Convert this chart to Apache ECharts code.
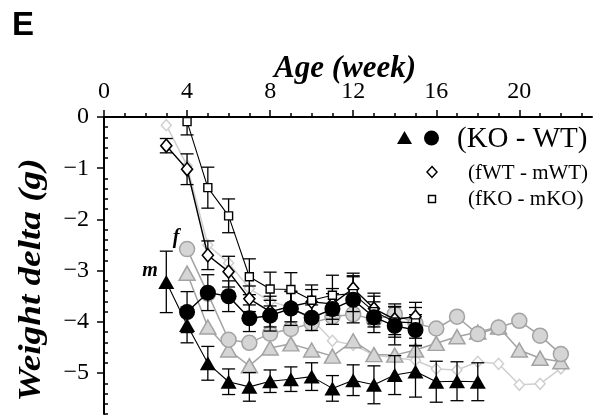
<!DOCTYPE html>
<html>
<head>
<meta charset="utf-8">
<script src="https://cdn.jsdelivr.net/npm/echarts@6/dist/echarts.min.js"></script>
<style>
  html, body { margin: 0; padding: 0; background: #fff; }
  #chart { width: 608px; height: 417px; }
</style>
</head>
<body>
<div id="chart"></div>
<script>
// Weight difference (g) against age (week)
const weeksM = [3, 4, 5, 6, 7, 8, 9, 10, 11, 12, 13, 14, 15, 16, 17, 18];
const koWtMale = [-3.22, -4.06, -4.81, -5.17, -5.27, -5.16, -5.12, -5.07, -5.30, -5.14, -5.23, -5.04, -4.97, -5.17, -5.16, -5.17];
const koWtMaleErr = [0.60, 0.35, 0.33, 0.25, 0.28, 0.22, 0.24, 0.27, 0.25, 0.30, 0.37, 0.38, 0.50, 0.40, 0.38, 0.37];

const weeksF = [4, 5, 6, 7, 8, 9, 10, 11, 12, 13, 14, 15];
const koWtFemale = [-3.81, -3.43, -3.50, -3.93, -3.88, -3.74, -3.92, -3.75, -3.57, -3.91, -4.08, -4.16];
const koWtFemaleErr = [0.40, 0.35, 0.30, 0.26, 0.30, 0.33, 0.25, 0.30, 0.45, 0.30, 0.37, 0.30];

const weeksWT = [3, 4, 5, 6, 7, 8, 9, 10, 11, 12, 13, 14, 15];
const fwtMwt = [-0.56, -1.02, -2.70, -3.02, -3.55, -3.80, -3.70, -3.61, -3.65, -3.35, -3.74, -3.95, -3.90];
const fwtMwtErr = [0.14, 0.30, 0.28, 0.30, 0.25, 0.30, 0.30, 0.24, 0.30, 0.30, 0.30, 0.30, 0.28];

const weeksKO = [4, 5, 6, 7, 8, 9, 10, 11, 12, 13, 14, 15];
const fkoMko = [-0.09, -1.38, -1.93, -3.12, -3.36, -3.37, -3.58, -3.48, -3.45, -3.80, -4.00, -4.02];
const fkoMkoErr = [0.26, 0.40, 0.33, 0.35, 0.33, 0.33, 0.30, 0.39, 0.35, 0.30, 0.30, 0.30];

// second cohort, drawn in grey (no error bars)
const weeksGrey = [4, 5, 6, 7, 8, 9, 10, 11, 12, 13, 14, 15, 16, 17, 18, 19, 20, 21, 22];
const greyFemale = [-2.58, -3.45, -4.35, -4.41, -4.23, -4.14, -4.03, -3.90, -3.85, -3.96, -3.85, -4.03, -4.13, -3.90, -4.24, -4.11, -3.98, -4.27, -4.63];
const greyMale = [-3.05, -4.10, -4.55, -4.86, -4.51, -4.43, -4.55, -4.67, -4.37, -4.64, -4.65, -4.55, -4.42, -4.29, -4.20, -4.10, -4.55, -4.71, -4.78];

const weeksGreyWT = [3, 4, 5, 6, 7, 8, 9, 10, 11, 12, 13, 14, 15, 16, 17, 18, 19, 20, 21, 22];
const greyWT = [-0.16, -0.95, -2.50, -2.85, -3.35, -3.60, -3.72, -3.95, -4.37, -4.45, -4.65, -4.70, -4.75, -4.92, -4.94, -4.78, -4.82, -5.23, -5.21, -4.91];

// axis ticks
const xMajor = [0, 4, 8, 12, 16, 20];
const xMinor = [1, 2, 3, 5, 6, 7, 9, 10, 11, 13, 14, 15, 17, 18, 19, 21, 22, 23];
const yMajor = [0, -1, -2, -3, -4, -5];
const yMinor = [];
for (let v = 1; v <= 29; v++) { if (v % 5 !== 0) yMinor.push(-v / 5); }

const SERIF = "'Liberation Serif', 'Times New Roman', serif";
const GREY_LINE = '#a3a3a3';
const GREY_FILL = '#d5d5d5';
const LIGHT = '#cfcfcf';

const pairs = (xs, ys) => xs.map((x, i) => [x, ys[i]]);
const triples = (xs, ys, es) => xs.map((x, i) => [x, ys[i], es[i]]);

function errorBars(data) {
  return {
    type: 'custom',
    data: data,
    silent: true,
    clip: true,
    z: 3,
    encode: { x: 0, y: 1 },
    renderItem: function (params, api) {
      const x = api.value(0), y = api.value(1), e = api.value(2);
      const top = api.coord([x, Math.min(0, y + e)]);
      const bot = api.coord([x, y - e]);
      const hw = 6.5;
      const st = { stroke: '#000', lineWidth: 1.3 };
      const parts = [
        { type: 'line', shape: { x1: top[0], y1: top[1], x2: bot[0], y2: bot[1] }, style: st },
        { type: 'line', shape: { x1: bot[0] - hw, y1: bot[1], x2: bot[0] + hw, y2: bot[1] }, style: st }
      ];
      // upper cap only when it lies inside the plot
      if (y + e < 0) {
        parts.push({ type: 'line', shape: { x1: top[0] - hw, y1: top[1], x2: top[0] + hw, y2: top[1] }, style: st });
      }
      return { type: 'group', children: parts };
    }
  };
}

function lineSeries(data, opts) {
  return Object.assign({
    type: 'line',
    data: data,
    silent: true,
    animation: false
  }, opts);
}

const chart = echarts.init(document.getElementById('chart'), null, { renderer: 'canvas' });

const xBase = {
  type: 'value', position: 'top', min: 0, max: 23.5,
  splitLine: { show: false }
};
const yBase = {
  type: 'value', min: -5.8, max: 0,
  splitLine: { show: false }
};

chart.setOption({
  animation: false,
  backgroundColor: '#fff',
  grid: { left: 104, right: 16, top: 117, bottom: 3, containLabel: false },
  xAxis: [
    Object.assign({}, xBase, {
      axisLine: { show: true, lineStyle: { color: '#000', width: 2 } },
      axisTick: { show: true, inside: false, length: 7, customValues: xMajor, lineStyle: { color: '#000', width: 1.5 } },
      axisLabel: { show: true, customValues: xMajor, margin: 13, color: '#000', fontSize: 24, fontFamily: SERIF }
    }),
    Object.assign({}, xBase, {
      axisLine: { show: false },
      axisTick: { show: true, inside: false, length: 4, customValues: xMinor, lineStyle: { color: '#000', width: 1.5 } },
      axisLabel: { show: false }
    })
  ],
  yAxis: [
    Object.assign({}, yBase, {
      axisLine: { show: true, lineStyle: { color: '#000', width: 2 } },
      axisTick: { show: true, inside: false, length: 7, customValues: yMajor, lineStyle: { color: '#000', width: 1.5 } },
      axisLabel: {
        show: true, customValues: yMajor, margin: 15, color: '#000', fontSize: 24, fontFamily: SERIF,
        formatter: v => String(v).replace('-', '\u2212')
      }
    }),
    Object.assign({}, yBase, {
      axisLine: { show: false },
      axisTick: { show: true, inside: false, length: 4, customValues: yMinor, lineStyle: { color: '#000', width: 1.5 } },
      axisLabel: { show: false }
    })
  ],
  series: [
    lineSeries(pairs(weeksGreyWT, greyWT), {
      z: 1, symbol: 'diamond', symbolSize: [10, 11],
      lineStyle: { color: LIGHT, width: 1.5 },
      itemStyle: { color: '#fff', borderColor: LIGHT, borderWidth: 1.5 }
    }),
    lineSeries(pairs(weeksGrey, greyMale), {
      z: 2, symbol: 'triangle', symbolSize: [16, 14],
      lineStyle: { color: GREY_LINE, width: 1.5 },
      itemStyle: { color: GREY_FILL, borderColor: GREY_LINE, borderWidth: 1.5 }
    }),
    lineSeries(pairs(weeksGrey, greyFemale), {
      z: 2, symbol: 'circle', symbolSize: 15,
      lineStyle: { color: GREY_LINE, width: 1.5 },
      itemStyle: { color: GREY_FILL, borderColor: GREY_LINE, borderWidth: 1.5 }
    }),
    errorBars(triples(weeksWT, fwtMwt, fwtMwtErr)),
    errorBars(triples(weeksKO, fkoMko, fkoMkoErr)),
    errorBars(triples(weeksM, koWtMale, koWtMaleErr)),
    errorBars(triples(weeksF, koWtFemale, koWtFemaleErr)),
    lineSeries(pairs(weeksWT, fwtMwt), {
      z: 4, symbol: 'diamond', symbolSize: [11, 13],
      lineStyle: { color: '#000', width: 1.4 },
      itemStyle: { color: '#fff', borderColor: '#000', borderWidth: 1.6 }
    }),
    lineSeries(pairs(weeksKO, fkoMko), {
      z: 4, symbol: 'rect', symbolSize: 8,
      lineStyle: { color: '#000', width: 1.1 },
      itemStyle: { color: '#fff', borderColor: '#000', borderWidth: 1.4 }
    }),
    lineSeries(pairs(weeksM, koWtMale), {
      z: 5, symbol: 'triangle', symbolSize: [16, 14],
      lineStyle: { color: '#000', width: 1.1 },
      itemStyle: { color: '#000' }
    }),
    lineSeries(pairs(weeksF, koWtFemale), {
      z: 5, symbol: 'circle', symbolSize: 16,
      lineStyle: { color: '#000', width: 1.4 },
      itemStyle: { color: '#000' }
    })
  ],
  graphic: [
    { type: 'text', left: 12, top: 9, style: { text: 'E', font: "bold 33px 'Liberation Sans', Arial, sans-serif", fill: '#000' } },
    { type: 'text', x: 345, y: 69, style: { text: 'Age (week)', font: 'italic bold 31px ' + SERIF, fill: '#000', align: 'center', verticalAlign: 'middle' } },
    { type: 'text', x: 32, y: 280, rotation: Math.PI / 2, scaleX: 1.2, style: { text: 'Weight delta (g)', font: 'italic bold 31px ' + SERIF, fill: '#000', align: 'center', verticalAlign: 'middle' } },
    { type: 'text', x: 176, y: 238, style: { text: 'f', font: 'italic bold 20px ' + SERIF, fill: '#000', align: 'center', verticalAlign: 'middle' } },
    { type: 'text', x: 150, y: 271, style: { text: 'm', font: 'italic bold 20px ' + SERIF, fill: '#000', align: 'center', verticalAlign: 'middle' } },
    // key
    { type: 'polygon', shape: { points: [[404.5, 131], [412, 144], [397, 144]] }, style: { fill: '#000' } },
    { type: 'circle', shape: { cx: 431.5, cy: 138, r: 7.5 }, style: { fill: '#000' } },
    { type: 'text', x: 457, y: 139, style: { text: '(KO - WT)', font: '29px ' + SERIF, fill: '#000', verticalAlign: 'middle' } },
    { type: 'polygon', shape: { points: [[432, 166.5], [437, 172], [432, 177.5], [427, 172]] }, style: { fill: '#fff', stroke: '#000', lineWidth: 1.5 } },
    { type: 'text', x: 468, y: 173, style: { text: '(fWT - mWT)', font: '21px ' + SERIF, fill: '#000', verticalAlign: 'middle' } },
    { type: 'rect', shape: { x: 428.5, y: 195.5, width: 7, height: 7 }, style: { fill: '#fff', stroke: '#000', lineWidth: 1.4 } },
    { type: 'text', x: 468, y: 199, style: { text: '(fKO - mKO)', font: '21px ' + SERIF, fill: '#000', verticalAlign: 'middle' } }
  ]
});
</script>
</body>
</html>
